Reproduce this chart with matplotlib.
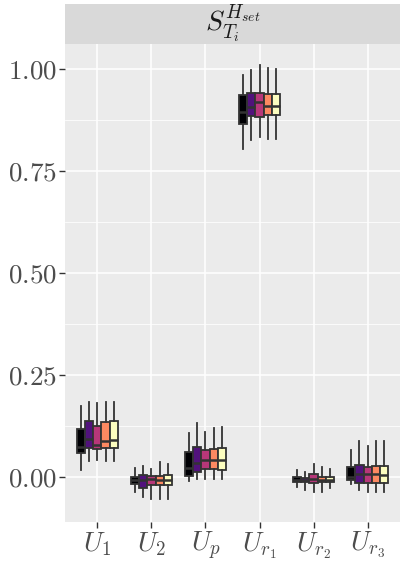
import matplotlib
matplotlib.use('Agg')
import matplotlib.pyplot as plt
from matplotlib.ticker import MultipleLocator, FixedLocator

plt.rcParams['mathtext.fontset'] = 'cm'
plt.rcParams['font.family'] = 'serif'
plt.rcParams['font.serif'] = ['cmr10', 'DejaVu Serif']

# groups on the x axis and the five boxes (runs) per group
groups = ['$U_1$', '$U_2$', '$U_p$', '$U_{r_1}$', '$U_{r_2}$', '$U_{r_3}$']
fill_colours = ['#000004', '#51127C', '#B73779', '#FC8961', '#FCFDBF']

# box statistics, one row per group, one value per box
whis_hi = [
    [0.174, 0.185, 0.182, 0.183, 0.183],
    [0.021, 0.027, 0.019, 0.036, 0.031],
    [0.109, 0.133, 0.111, 0.119, 0.123],
    [0.985, 0.998, 1.010, 1.002, 1.000],
    [0.017, 0.013, 0.031, 0.025, 0.020],
    [0.066, 0.089, 0.076, 0.087, 0.088],
]
q3 = [
    [0.117, 0.138, 0.125, 0.135, 0.137],
    [-0.001, 0.005, 0.003, 0.003, 0.005],
    [0.062, 0.073, 0.066, 0.068, 0.070],
    [0.936, 0.942, 0.942, 0.938, 0.938],
    [-0.001, -0.003, 0.007, -0.001, -0.001],
    [0.025, 0.029, 0.024, 0.027, 0.027],
]
med = [
    [0.074, 0.093, 0.078, 0.088, 0.091],
    [-0.007, -0.007, -0.005, -0.007, -0.007],
    [0.021, 0.035, 0.042, 0.042, 0.042],
    [0.894, 0.908, 0.918, 0.910, 0.910],
    [-0.007, -0.007, -0.005, -0.007, -0.007],
    [-0.001, 0.007, 0.007, 0.007, 0.005],
]
q1 = [
    [0.060, 0.072, 0.068, 0.072, 0.072],
    [-0.018, -0.026, -0.020, -0.020, -0.020],
    [0.002, 0.013, 0.019, 0.019, 0.017],
    [0.865, 0.886, 0.882, 0.887, 0.887],
    [-0.013, -0.013, -0.015, -0.013, -0.013],
    [-0.007, -0.015, -0.015, -0.015, -0.015],
]
whis_lo = [
    [0.017, 0.039, 0.042, 0.039, 0.039],
    [-0.038, -0.050, -0.055, -0.055, -0.055],
    [-0.010, -0.006, -0.006, -0.006, -0.006],
    [0.803, 0.826, 0.833, 0.829, 0.829],
    [-0.024, -0.032, -0.036, -0.036, -0.028],
    [-0.017, -0.032, -0.038, -0.038, -0.036],
]

fig = plt.figure(figsize=(4.0, 5.62), dpi=100)
ax = fig.add_axes([0.1625, 0.0717, 0.8375, 0.85])
strip = fig.add_axes([0.1625, 0.9217, 0.8375, 0.0712])

ax.set_facecolor('#EBEBEB')
for s in ax.spines.values():
    s.set_visible(False)

n_box = len(fill_colours)
dodge = 0.15
for g in range(len(groups)):
    for b in range(n_box):
        pos = g + 1 + (b - (n_box - 1) / 2) * dodge
        stats = [{
            'whislo': whis_lo[g][b], 'q1': q1[g][b], 'med': med[g][b],
            'q3': q3[g][b], 'whishi': whis_hi[g][b], 'fliers': [],
        }]
        ax.bxp(stats, positions=[pos], widths=dodge, patch_artist=True,
               showcaps=False, manage_ticks=False,
               boxprops=dict(facecolor=fill_colours[b], edgecolor='#333333', linewidth=1.3),
               medianprops=dict(color='#333333', linewidth=1.8),
               whiskerprops=dict(color='#333333', linewidth=1.3),
               zorder=3)

ax.set_xlim(0.4, 6.6)
ax.set_ylim(-0.1096, 1.0613)
ax.xaxis.set_major_locator(FixedLocator(range(1, len(groups) + 1)))
ax.set_xticklabels(groups)
ax.yaxis.set_major_locator(MultipleLocator(0.25))
ax.yaxis.set_minor_locator(MultipleLocator(0.125))
ax.set_yticks([0.0, 0.25, 0.5, 0.75, 1.0])
ax.set_yticklabels(['$0.00$', '$0.25$', '$0.50$', '$0.75$', '$1.00$'])
ax.grid(which='major', color='white', linewidth=1.1, zorder=0)
ax.grid(which='minor', axis='y', color='white', linewidth=0.55, zorder=0)
ax.set_axisbelow(True)
ax.tick_params(axis='both', which='major', colors='#333333', labelcolor='#4D4D4D',
               labelsize=19.5, length=4, width=1, pad=2)
ax.tick_params(axis='y', which='minor', length=0)

strip.set_facecolor('#D9D9D9')
strip.set_xticks([])
strip.set_yticks([])
for s in strip.spines.values():
    s.set_visible(False)
strip.text(0.5, 0.5, '$S_{T_i}^{H_{set}}$', ha='center', va='center',
           fontsize=20, color='#1A1A1A', transform=strip.transAxes)

fig.savefig('out.png', dpi=100)
